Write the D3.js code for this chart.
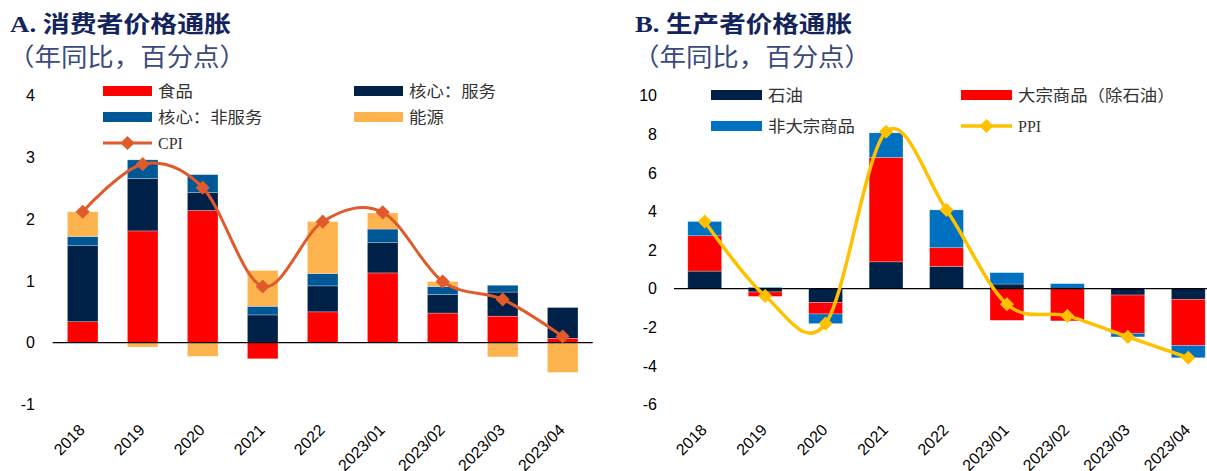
<!DOCTYPE html>
<html>
<head>
<meta charset="utf-8">
<script src="https://cdn.jsdelivr.net/npm/d3@7"></script>
<style>
  body { margin: 0; background: #fff; }
  svg { display: block; }
</style>
</head>
<body>
<svg width="1207" height="471"></svg>
<script>
const categories = ["2018", "2019", "2020", "2021", "2022", "2023/01", "2023/02", "2023/03", "2023/04"];

// A. consumer price inflation (pp, y/y)
const cpiFood       = [0.34, 1.81, 2.14, -0.26, 0.50, 1.13, 0.48, 0.43, 0.07];
const cpiServices   = [1.23, 0.85, 0.29, 0.45, 0.42, 0.49, 0.30, 0.39, 0.50];
const cpiNonService = [0.15, 0.30, 0.29, 0.14, 0.20, 0.22, 0.13, 0.11, 0.00];
const cpiEnergy     = [0.40, -0.07, -0.22, 0.58, 0.84, 0.26, 0.08, -0.23, -0.48];
const cpiTotal      = [2.12, 2.89, 2.51, 0.91, 1.96, 2.11, 0.99, 0.70, 0.10];
const cpiTicks      = [-1, 0, 1, 2, 3, 4];

// B. producer price inflation (pp, y/y)
const ppiOil        = [0.91, -0.17, -0.72, 1.39, 1.15, 0.24, 0.00, -0.33, -0.55];
const ppiCommod     = [1.83, -0.23, -0.59, 5.41, 0.97, -1.64, -1.67, -1.98, -2.39];
const ppiNonCommod  = [0.74, 0.07, -0.50, 1.27, 1.96, 0.59, 0.26, -0.19, -0.64];
const ppiTotal      = [3.48, -0.38, -1.81, 8.13, 4.08, -0.81, -1.41, -2.50, -3.58];
const ppiTicks      = [-6, -4, -2, 0, 2, 4, 6, 8, 10];

const svg = d3.select("svg");
const cjkFont = "'Liberation Serif', 'Noto Sans CJK SC', serif";
const plotTop = 95.6, plotBottom = 404.5;

function drawPanel(p) {
  const rows = categories.map((c, i) => {
    const r = {cat: c};
    p.series.forEach(s => r[s.key] = s.values[i]);
    return r;
  });

  const x = d3.scaleBand()
    .domain(categories)
    .range(p.xRange)
    .paddingInner(p.pad)
    .paddingOuter(p.pad / 2);

  const y = d3.scaleLinear().domain(d3.extent(p.ticks)).range([plotBottom, plotTop]);

  const stack = d3.stack()
    .keys(p.series.map(s => s.key))
    .offset(d3.stackOffsetDiverging)(rows);

  const g = svg.append("g");

  g.selectAll("g.layer")
    .data(stack)
    .enter().append("g")
      .attr("class", "layer")
      .attr("fill", (d, i) => p.series[i].color)
    .selectAll("rect")
    .data(d => d)
    .enter().append("rect")
      .attr("x", d => x(d.data.cat))
      .attr("width", x.bandwidth())
      .attr("y", d => y(Math.max(d[0], d[1])))
      .attr("height", d => Math.abs(y(d[0]) - y(d[1])))
      .attr("stroke", "#fff")
      .attr("stroke-opacity", 0.45)
      .attr("stroke-width", 0.6);

  // zero line
  g.append("line")
    .attr("x1", p.zeroX[0]).attr("x2", p.zeroX[1])
    .attr("y1", y(0)).attr("y2", y(0))
    .attr("stroke", "#000").attr("stroke-width", 1.3);

  // y tick labels
  g.selectAll("text.ytick")
    .data(p.ticks)
    .enter().append("text")
      .attr("class", "ytick")
      .attr("x", p.tickX)
      .attr("y", d => y(d))
      .attr("dy", "0.36em")
      .attr("text-anchor", "end")
      .attr("font-family", "'Liberation Sans', Arial, sans-serif")
      .attr("font-size", 16)
      .attr("fill", "#000")
      .text(d => d);

  // x labels
  g.selectAll("text.xtick")
    .data(categories)
    .enter().append("text")
      .attr("class", "xtick")
      .attr("transform", d => `translate(${x(d) + x.bandwidth() / 2 + 3},431) rotate(-45)`)
      .attr("text-anchor", "end")
      .attr("font-family", "'Liberation Sans', Arial, sans-serif")
      .attr("font-size", 16)
      .attr("fill", "#000")
      .text(d => d);

  // total line
  const cx = (d, i) => x(categories[i]) + x.bandwidth() / 2;
  const line = d3.line()
    .x(cx)
    .y(d => y(d))
    .curve(d3.curveCardinal.tension(0));

  g.append("path")
    .datum(p.total.values)
    .attr("d", line)
    .attr("fill", "none")
    .attr("stroke", p.total.color)
    .attr("stroke-width", p.total.width);

  const diamond = d3.symbol(d3.symbolSquare, 100);
  g.selectAll("path.marker")
    .data(p.total.values)
    .enter().append("path")
      .attr("class", "marker")
      .attr("d", diamond)
      .attr("transform", (d, i) => `translate(${cx(d, i)},${y(d)}) rotate(45)`)
      .attr("fill", p.total.color);

  // titles
  g.append("text")
    .attr("x", p.titleX).attr("y", 32)
    .attr("font-family", cjkFont)
    .attr("font-size", 23)
    .attr("font-weight", "bold")
    .attr("fill", "#13245c")
    .attr("textLength", p.titleLen)
    .attr("lengthAdjust", "spacingAndGlyphs")
    .text(p.title);

  g.append("text")
    .attr("x", p.subX).attr("y", 66)
    .attr("font-family", "'Noto Sans CJK SC', sans-serif")
    .attr("font-size", 25)
    .attr("fill", "#3a4a7c")
    .attr("textLength", 238)
    .attr("lengthAdjust", "spacingAndGlyphs")
    .text("（年同比，百分点）");

  // legend
  const items = p.series.map(s => ({label: s.label, color: s.color, type: "rect"}))
    .concat([{label: p.total.label, color: p.total.color, type: "line", width: p.total.width}]);

  items.forEach((it, i) => {
    const pos = p.legendPos[i];
    const lg = g.append("g").attr("transform", `translate(${pos[0]},${pos[1]})`);
    if (it.type === "rect") {
      lg.append("rect")
        .attr("x", 0).attr("y", -5)
        .attr("width", p.swatchW).attr("height", 10)
        .attr("fill", it.color);
    } else {
      lg.append("line")
        .attr("x1", 0).attr("x2", p.swatchW)
        .attr("stroke", it.color).attr("stroke-width", it.width);
      lg.append("path")
        .attr("d", diamond)
        .attr("transform", `translate(${p.swatchW / 2},0) rotate(45)`)
        .attr("fill", it.color);
    }
    const t = lg.append("text")
      .attr("x", p.swatchW + 6)
      .attr("dy", "0.36em")
      .attr("font-family", cjkFont)
      .attr("font-size", 16)
      .attr("fill", "#333")
      .text(it.label);
    if (/[\u4e00-\u9fff]/.test(it.label)) {
      t.attr("textLength", it.label.length * 17.4).attr("lengthAdjust", "spacingAndGlyphs");
    }
  });
}

drawPanel({
  title: "A. 消费者价格通胀", titleX: 10, titleLen: 221, subX: 8,
  xRange: [52.7, 592.7], pad: 0.49, ticks: cpiTicks, tickX: 35, zeroX: [52.7, 592.7],
  series: [
    {key: "food", label: "食品", color: "#ff0000", values: cpiFood},
    {key: "svc", label: "核心：服务", color: "#002147", values: cpiServices},
    {key: "nonsvc", label: "核心：非服务", color: "#005796", values: cpiNonService},
    {key: "energy", label: "能源", color: "#fdb44e", values: cpiEnergy}
  ],
  total: {label: "CPI", color: "#e05a2c", width: 3, values: cpiTotal},
  swatchW: 49,
  legendPos: [[103, 91], [354, 91], [103, 117], [354, 117], [103, 143]]
});

drawPanel({
  title: "B. 生产者价格通胀", titleX: 635, titleLen: 217, subX: 633,
  xRange: [674.5, 1218.5], pad: 0.44, ticks: ppiTicks, tickX: 657, zeroX: [674, 1207],
  series: [
    {key: "oil", label: "石油", color: "#002147", values: ppiOil},
    {key: "commod", label: "大宗商品（除石油）", color: "#ff0000", values: ppiCommod},
    {key: "noncommod", label: "非大宗商品", color: "#0070c0", values: ppiNonCommod}
  ],
  total: {label: "PPI", color: "#ffc000", width: 3.5, values: ppiTotal},
  swatchW: 51,
  legendPos: [[711, 95], [961, 95], [711, 126], [961, 126]]
});
</script>
</body>
</html>
